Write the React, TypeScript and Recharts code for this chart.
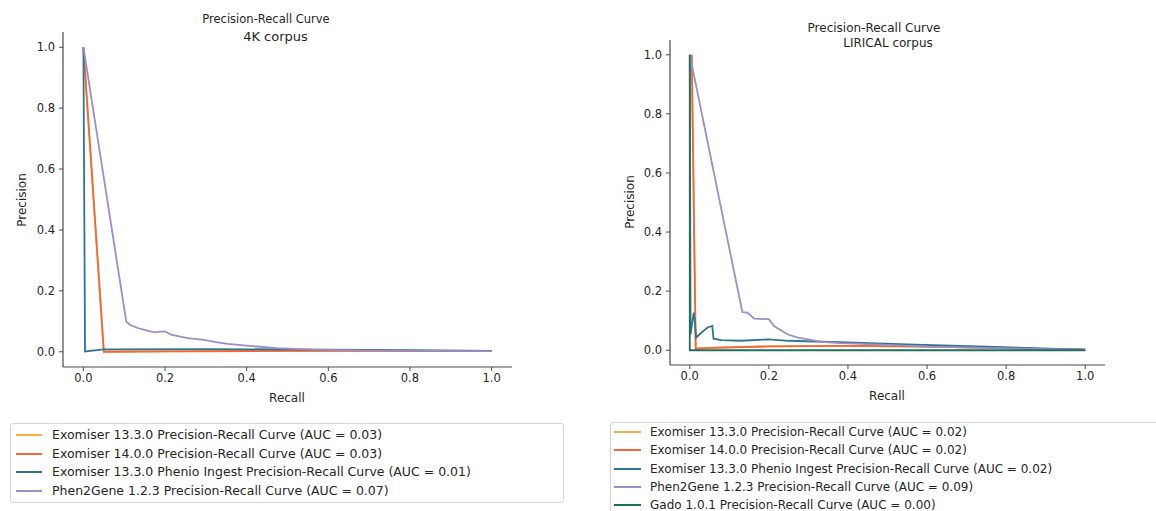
import React from 'react';
import { LineChart, Line, XAxis, YAxis } from 'recharts';

// ---------- data (recall, precision) ----------
const axisTicks = [0, 0.2, 0.4, 0.6, 0.8, 1.0];
const axisDomain = [-0.05, 1.05];

// 4K corpus
const k4Exomiser1330 = [[0, 1.0], [0.05, 0.0], [0.2, 0.001], [0.5, 0.003], [0.8, 0.003], [1.0, 0.002]];
const k4Exomiser1400 = [[0, 1.0], [0.05, 0.0], [0.2, 0.001], [0.5, 0.003], [0.8, 0.003], [1.0, 0.002]];
const k4Phenio = [[0, 1.0], [0.004, 0.001], [0.05, 0.008], [0.3, 0.009], [0.6, 0.007], [0.8, 0.005], [1.0, 0.003]];
const k4Phen2Gene = [
  [0, 1.0], [0.105, 0.099], [0.115, 0.088], [0.133, 0.078], [0.15, 0.072], [0.174, 0.064],
  [0.19, 0.066], [0.2, 0.067], [0.215, 0.056], [0.255, 0.045], [0.296, 0.039], [0.325, 0.032],
  [0.353, 0.026], [0.4, 0.02], [0.475, 0.012], [0.56, 0.007], [0.7, 0.004], [0.85, 0.003], [1.0, 0.002],
];

// LIRICAL corpus
const lirExomiser1330 = [[0.005, 1.0], [0.015, 0.005], [0.05, 0.008], [0.2, 0.013], [0.4, 0.015], [0.6, 0.012], [0.8, 0.007], [1.0, 0.002]];
const lirExomiser1400 = [[0.005, 1.0], [0.015, 0.005], [0.05, 0.008], [0.2, 0.013], [0.4, 0.015], [0.6, 0.012], [0.8, 0.007], [1.0, 0.002]];
const lirPhenio = [
  [0, 1.0], [0.002, 0.054], [0.01, 0.127], [0.013, 0.095], [0.016, 0.043], [0.03, 0.06],
  [0.045, 0.077], [0.057, 0.082], [0.06, 0.039], [0.08, 0.034], [0.13, 0.032], [0.2, 0.037],
  [0.25, 0.032], [0.38, 0.027], [0.55, 0.02], [0.75, 0.012], [1.0, 0.002],
];
const lirPhen2Gene = [
  [0, 1.0], [0.133, 0.129], [0.146, 0.127], [0.163, 0.107], [0.2, 0.105], [0.213, 0.082],
  [0.247, 0.054], [0.273, 0.043], [0.3, 0.037], [0.332, 0.028], [0.382, 0.024], [0.466, 0.02],
  [0.6, 0.012], [0.8, 0.006], [1.0, 0.002],
];
const lirGado = [[0, 1.0], [0, 0.0], [1.0, 0.0]];

const k4Labels = [
  'Exomiser 13.3.0 Precision-Recall Curve (AUC = 0.03)',
  'Exomiser 14.0.0 Precision-Recall Curve (AUC = 0.03)',
  'Exomiser 13.3.0 Phenio Ingest Precision-Recall Curve (AUC = 0.01)',
  'Phen2Gene 1.2.3 Precision-Recall Curve (AUC = 0.07)',
];
const lirLabels = [
  'Exomiser 13.3.0 Precision-Recall Curve (AUC = 0.02)',
  'Exomiser 14.0.0 Precision-Recall Curve (AUC = 0.02)',
  'Exomiser 13.3.0 Phenio Ingest Precision-Recall Curve (AUC = 0.02)',
  'Phen2Gene 1.2.3 Precision-Recall Curve (AUC = 0.09)',
  'Gado 1.0.1 Precision-Recall Curve (AUC = 0.00)',
];

const colors = ['#F6AE45', '#F2673A', '#2E7590', '#9E8DC6', '#1F6F5C'];

const toPts = (a: number[][]) => a.map(([recall, precision]) => ({ recall, precision }));

const k4Series = [k4Exomiser1330, k4Exomiser1400, k4Phenio, k4Phen2Gene];
const lirSeries = [lirExomiser1330, lirExomiser1400, lirPhenio, lirPhen2Gene, lirGado];

const FONT = '"DejaVu Sans", sans-serif';
const TXT = '#262626';
const AX = '#4a4a4a';

type ChartProps = {
  left: number;
  width: number;
  height: number;
  margin: { top: number; right: number; bottom: number; left: number };
  yWidth: number;
  xHeight: number;
  series: number[][][];
};

function PRChart({ left, width, height, margin, yWidth, xHeight, series }: ChartProps) {
  const tickStyle = { fontSize: 11.5, fill: TXT, fontFamily: FONT };
  return (
    <div style={{ position: 'absolute', left, top: 0 }}>
      <LineChart width={width} height={height} margin={margin}>
        <XAxis
          type="number"
          dataKey="recall"
          domain={axisDomain}
          ticks={axisTicks}
          allowDataOverflow
          height={xHeight}
          tickFormatter={(v: number) => v.toFixed(1)}
          tick={tickStyle}
          tickSize={4}
          tickMargin={3}
          stroke={AX}
          axisLine={{ stroke: AX, strokeWidth: 1.2 }}
          tickLine={{ stroke: AX }}
        />
        <YAxis
          type="number"
          dataKey="precision"
          domain={axisDomain}
          ticks={axisTicks}
          allowDataOverflow
          width={yWidth}
          tickFormatter={(v: number) => v.toFixed(1)}
          tick={tickStyle}
          tickSize={4}
          tickMargin={4}
          stroke={AX}
          axisLine={{ stroke: AX, strokeWidth: 1.2 }}
          tickLine={{ stroke: AX }}
        />
        {series.map((s, i) => (
          <Line
            key={i}
            data={toPts(s)}
            dataKey="precision"
            type="linear"
            stroke={colors[i]}
            strokeWidth={1.8}
            dot={false}
            activeDot={false}
            isAnimationActive={false}
          />
        ))}
      </LineChart>
    </div>
  );
}

function Legend({ left, top, width, height, rowTop, rowGap, lineLeft, lineWidth, textLeft, fontSize, labels }: any) {
  return (
    <div
      style={{
        position: 'absolute', left, top, width, height,
        border: '1px solid #d6d6d6', borderRadius: 3, background: '#fff', boxSizing: 'border-box',
      }}
    >
      {labels.map((label: string, i: number) => (
        <div key={i} style={{ position: 'absolute', left: 0, top: rowTop + i * rowGap - 9, height: 18, width: '100%' }}>
          <div style={{ position: 'absolute', left: lineLeft, top: 8, width: lineWidth, height: 2, background: colors[i] }} />
          <div style={{ position: 'absolute', left: textLeft, top: 0, height: 18, lineHeight: '18px', fontSize, fontFamily: FONT, color: TXT, whiteSpace: 'nowrap' }}>
            {label}
          </div>
        </div>
      ))}
    </div>
  );
}

const textAbs = (x: number, y: number, size: number, rotate = false): React.CSSProperties => ({
  position: 'absolute', left: x, top: y, fontSize: size, fontFamily: FONT, color: TXT, whiteSpace: 'nowrap',
  transform: rotate ? 'translate(-50%, -50%) rotate(-90deg)' : 'translate(-50%, -50%)', lineHeight: 1,
});

export default function App() {
  return (
    <div style={{ position: 'absolute', left: 0, top: 0, width: 1156, height: 511, overflow: 'hidden', background: '#fff' }}>
      <PRChart left={0} width={560} height={410} margin={{ top: 32, right: 48, bottom: 0, left: 0 }} yWidth={63} xHeight={43} series={k4Series} />
      <PRChart left={600} width={556} height={410} margin={{ top: 40, right: 51, bottom: 0, left: 0 }} yWidth={70} xHeight={45} series={lirSeries} />

      <div style={textAbs(266, 20, 11.5)}>Precision-Recall Curve</div>
      <div style={textAbs(275.5, 36, 13)}>4K corpus</div>
      <div style={textAbs(874, 28, 12)}>Precision-Recall Curve</div>
      <div style={textAbs(888, 43, 12)}>LIRICAL corpus</div>

      <div style={textAbs(22, 200, 12, true)}>Precision</div>
      <div style={textAbs(287, 398, 12)}>Recall</div>
      <div style={textAbs(630, 202, 12, true)}>Precision</div>
      <div style={textAbs(887, 396, 12)}>Recall</div>

      <Legend left={10} top={423} width={554} height={80} rowTop={11} rowGap={18.7} lineLeft={5} lineWidth={26} textLeft={41} fontSize={12.5} labels={k4Labels} />
      <Legend left={610} top={422} width={600} height={100} rowTop={9} rowGap={18.3} lineLeft={3} lineWidth={27} textLeft={39} fontSize={12} labels={lirLabels} />
    </div>
  );
}
